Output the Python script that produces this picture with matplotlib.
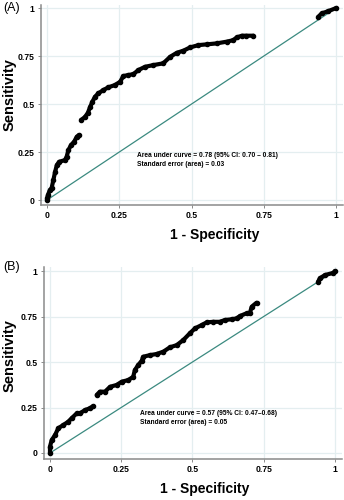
import numpy as np
import matplotlib
matplotlib.use("Agg")
import matplotlib.pyplot as plt

plt.rcParams['font.family'] = ['Liberation Sans', 'DejaVu Sans']

# ROC curve (A): 1 - specificity vs sensitivity, NaN marks a break in the curve
fpr_a = [0.000, 0.001, 0.003, 0.010, 0.016, 0.022, 0.028, 0.034, 0.042, 0.062,
         0.068, 0.074, 0.083, 0.094, 0.103, 0.111, np.nan,
         0.118, 0.131, 0.141, 0.149, 0.157, 0.166, 0.178, 0.195, 0.212, 0.235,
         0.253, 0.264, 0.281, 0.299, 0.316, 0.339, 0.368, 0.402, 0.426, 0.449,
         0.472, 0.495, 0.524, 0.553, 0.587, 0.622, 0.645, 0.656, 0.674, 0.690,
         0.714, np.nan,
         0.939, 0.950, 0.973, 1.000]
tpr_a = [0.000, 0.009, 0.026, 0.052, 0.063, 0.104, 0.147, 0.182, 0.199, 0.208,
         0.226, 0.260, 0.286, 0.304, 0.330, 0.339, np.nan,
         0.417, 0.432, 0.453, 0.484, 0.512, 0.538, 0.556, 0.573, 0.587, 0.599,
         0.616, 0.646, 0.651, 0.656, 0.677, 0.694, 0.703, 0.712, 0.746, 0.767,
         0.778, 0.795, 0.807, 0.811, 0.816, 0.825, 0.833, 0.847, 0.856, 0.856,
         0.856, np.nan,
         0.955, 0.972, 0.984, 1.000]

# ROC curve (B)
fpr_b = [0.000, 0.000, 0.006, 0.018, 0.029, 0.047, 0.064, 0.076, 0.094, 0.105,
         0.123, 0.140, 0.152, np.nan,
         0.164, 0.175, 0.193, 0.211, 0.234, 0.252, 0.275, 0.292, 0.298, 0.310,
         0.322, 0.327, 0.351, 0.374, 0.398, 0.421, 0.445, 0.468, 0.491, 0.509,
         0.532, 0.550, 0.573, 0.596, 0.614, 0.638, 0.655, 0.667, 0.690, 0.702,
         0.708, 0.725, np.nan,
         0.941, 0.947, 0.965, 0.994, 1.000]
tpr_b = [0.000, 0.035, 0.071, 0.099, 0.136, 0.154, 0.172, 0.191, 0.218, 0.218,
         0.236, 0.246, 0.258, np.nan,
         0.319, 0.337, 0.337, 0.364, 0.374, 0.392, 0.401, 0.419, 0.456, 0.484,
         0.507, 0.529, 0.538, 0.544, 0.557, 0.581, 0.593, 0.621, 0.658, 0.685,
         0.703, 0.718, 0.721, 0.721, 0.731, 0.735, 0.740, 0.753, 0.768, 0.771,
         0.804, 0.826, np.nan,
         0.941, 0.960, 0.978, 0.990, 1.000]

ticks = [0, 0.25, 0.5, 0.75, 1]
tick_labels = ["0", "0.25", "0.5", "0.75", "1"]

auc_text_a = "Area under curve = 0.78 (95% CI: 0.70 \u2013 0.81)\nStandard error (area) = 0.03"
auc_text_b = "Area under curve = 0.57 (95% CI: 0.47\u20130.68)\nStandard error (area) = 0.05"

GRID = "#e4eef0"
SPINE = "#8a8a8a"
DIAG = "#3b8a80"

fig = plt.figure(figsize=(3.44, 5.00), dpi=100)


def roc_panel(rect, xlim, ylim, fpr, tpr, txt, txt_xy, label, label_y, ylab_y, xlab_xy):
    ax = fig.add_axes(rect)
    ax.set_xlim(*xlim)
    ax.set_ylim(*ylim)
    for t in ticks:
        ax.axhline(t, color=GRID, lw=0.9, zorder=0)
        ax.axvline(t, color=GRID, lw=0.9, zorder=0)
    ax.plot([0, 1], [0, 1], color=DIAG, lw=0.9, zorder=2)
    ax.plot(fpr, tpr, color="black", lw=3.0, marker="o", ms=3.0,
            solid_capstyle="round", solid_joinstyle="round", zorder=3)
    ax.set_xticks(ticks)
    ax.set_xticklabels(tick_labels)
    ax.set_yticks(ticks)
    ax.set_yticklabels(tick_labels)
    ax.tick_params(axis="both", labelsize=6.2, length=2.5, width=0.7, color=SPINE, pad=2)
    for lab in ax.get_xticklabels() + ax.get_yticklabels():
        lab.set_fontweight("bold")
    for s in ("top", "right"):
        ax.spines[s].set_visible(False)
    for s in ("left", "bottom"):
        ax.spines[s].set_color(SPINE)
        ax.spines[s].set_linewidth(1.1)
    ax.text(txt_xy[0], txt_xy[1], txt, fontsize=4.8, fontweight="bold",
            va="center", ha="left", linespacing=1.4)
    fig.text(3 / 344, 1 - label_y / 500, label, fontsize=9, va="center", ha="left")
    fig.text(9.5 / 344, 1 - ylab_y / 500, "Sensitivity", rotation=90, fontsize=10.5,
             fontweight="bold", va="center", ha="center")
    fig.text(xlab_xy[0] / 344, 1 - xlab_xy[1] / 500, "1 - Specificity", fontsize=10,
             fontweight="bold", va="center", ha="center")
    return ax


roc_panel([41 / 344, 1 - 205 / 500, 302 / 344, 200 / 500],
          (-0.0208, 1.024), (-0.026, 1.016),
          fpr_a, tpr_a, auc_text_a, (0.311, 0.208), "(A)", 8, 95, (215, 235))

roc_panel([44 / 344, 1 - 459 / 500, 298 / 344, 192.3 / 500],
          (-0.021, 1.025), (-0.033, 1.024),
          fpr_b, tpr_b, auc_text_b, (0.316, 0.195), "(B)", 267, 356, (205, 489))

fig.savefig("out.png", dpi=100, facecolor="white")
